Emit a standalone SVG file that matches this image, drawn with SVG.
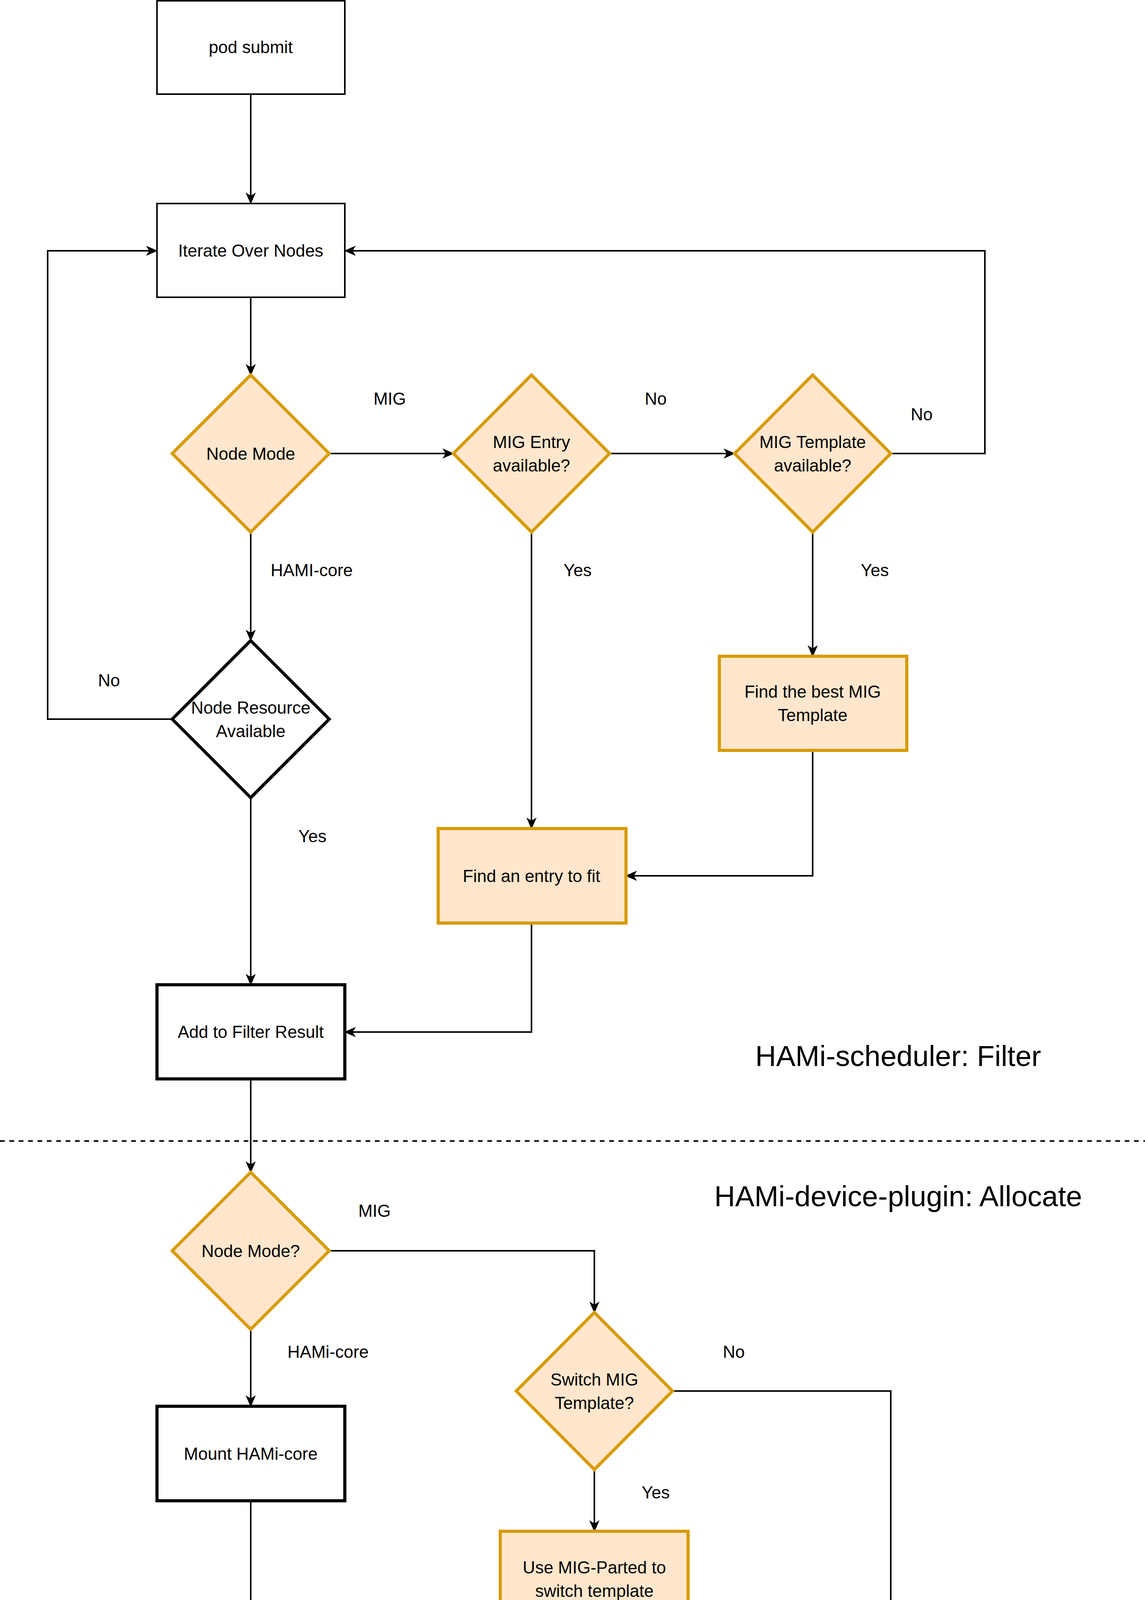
<svg xmlns="http://www.w3.org/2000/svg" width="2932" height="5444" viewBox="0 0 2932 5444">
<defs>
<marker id="ar" viewBox="0 0 30 26" refX="28" refY="13" markerWidth="30" markerHeight="26" markerUnits="userSpaceOnUse" orient="auto"><path d="M0,0 L30,13 L0,26 L8,13 Z" fill="#000"/></marker>
<style>
text{font-family:"Liberation Sans",Arial,sans-serif;font-size:44px;fill:#000;text-anchor:middle;dominant-baseline:central}
.t{fill:#fff;stroke:#000;stroke-width:4}
.k{fill:#fff;stroke:#000;stroke-width:8}
.o{fill:#ffe6cc;stroke:#d79b00;stroke-width:8}
.c{fill:none;stroke:#000;stroke-width:4;marker-end:url(#ar)}
.big{font-size:74px}
</style>
</defs>
<rect width="2932" height="5444" fill="#fff"/>
<g id="connectors">
<path class="c" d="M642,241 V521"/>
<path class="c" d="M642,761 V960"/>
<path class="c" d="M843,1161 H1161"/>
<path class="c" d="M1561,1161 H1881"/>
<path class="c" d="M2281,1161 H2522 V642 H883"/>
<path class="c" d="M642,1362 V1640"/>
<path class="c" d="M441,1841 H122 V642 H402"/>
<path class="c" d="M1361,1362 V2121"/>
<path class="c" d="M2081,1362 V1680"/>
<path class="c" d="M2081,1921 V2242 H1603"/>
<path class="c" d="M642,2042 V2521"/>
<path class="c" d="M1361,2363 V2642 H883"/>
<path class="c" d="M642,2762 V3001"/>
<path class="c" d="M843,3202 H1522 V3360"/>
<path class="c" d="M642,3403 V3600"/>
<path class="c" d="M1522,3762 V3920"/>
<path class="c" d="M1722,3561 H2281 V4442 H1762"/>
<path class="c" d="M642,3842 V4161"/>
<path class="c" d="M1522,4163 V4321"/>
<path class="c" d="M642,4402 V4720"/>
<path class="c" d="M1522,4562 V4720"/>
<path fill="none" stroke="#000" stroke-width="4" d="M642,4964 V5082 H1522 V4964"/>
<path class="c" d="M1083,5082 V5202"/>
<line x1="0" y1="2921" x2="2932" y2="2921" stroke="#000" stroke-width="4" stroke-dasharray="12,12"/>
</g>
<g id="labels">
<text x="998" y="1020">MIG</text>
<text x="1679" y="1020">No</text>
<text x="2360" y="1060">No</text>
<text x="798" y="1459">HAMI-core</text>
<text x="1479" y="1459">Yes</text>
<text x="2240" y="1459">Yes</text>
<text x="279" y="1741">No</text>
<text x="800" y="2140">Yes</text>
<text x="959" y="3099">MIG</text>
<text x="840" y="3460">HAMi-core</text>
<text x="1879" y="3460">No</text>
<text x="1679" y="3820">Yes</text>
<text class="big" x="2300" y="2703">HAMi-scheduler: Filter</text>
<text class="big" x="2300" y="3062">HAMi-device-plugin: Allocate</text>
</g>
<g id="pod-submit"><rect class="t" x="402" y="2" width="481" height="239"/><text x="642" y="120">pod submit</text></g>
<g id="iterate"><rect class="t" x="402" y="521" width="481" height="240"/><text x="642" y="641">Iterate Over Nodes</text></g>
<g id="node-mode"><path class="o" d="M642,960 L843,1161 L642,1362 L441,1161 Z"/><text x="642" y="1161">Node Mode</text></g>
<g id="mig-entry"><path class="o" d="M1361,960 L1561,1161 L1361,1362 L1161,1161 Z"/><text x="1361" y="1131">MIG Entry</text><text x="1361" y="1191">available?</text></g>
<g id="mig-template"><path class="o" d="M2081,960 L2281,1161 L2081,1362 L1881,1161 Z"/><text x="2081" y="1131">MIG Template</text><text x="2081" y="1191">available?</text></g>
<g id="node-resource"><path class="k" d="M642,1640 L843,1841 L642,2042 L441,1841 Z"/><text x="642" y="1811">Node Resource</text><text x="642" y="1871">Available</text></g>
<g id="best-template"><rect class="o" x="1842" y="1680" width="480" height="241"/><text x="2081" y="1770">Find the best MIG</text><text x="2081" y="1830">Template</text></g>
<g id="entry-fit"><rect class="o" x="1122" y="2121" width="481" height="242"/><text x="1361" y="2242">Find an entry to fit</text></g>
<g id="filter-result"><rect class="k" x="402" y="2521" width="481" height="241"/><text x="642" y="2641">Add to Filter Result</text></g>
<g id="node-mode-2"><path class="o" d="M642,3001 L843,3202 L642,3403 L441,3202 Z"/><text x="642" y="3202">Node Mode?</text></g>
<g id="switch"><path class="o" d="M1522,3360 L1722,3561 L1522,3762 L1322,3561 Z"/><text x="1522" y="3531">Switch MIG</text><text x="1522" y="3591">Template?</text></g>
<g id="mount-core"><rect class="k" x="402" y="3600" width="481" height="242"/><text x="642" y="3721">Mount HAMi-core</text></g>
<g id="mig-parted"><rect class="o" x="1281" y="3920" width="481" height="243"/><text x="1522" y="4012">Use MIG-Parted to</text><text x="1522" y="4072">switch template</text></g>
<g id="set-envs"><rect class="k" x="402" y="4161" width="481" height="241"/><text x="642" y="4252">Set corresponding</text><text x="642" y="4312">Envs</text></g>
<g id="find-available"><rect class="o" x="1281" y="4321" width="481" height="241"/><text x="1522" y="4442">Find an available</text></g>
<g id="mount-gpu"><rect class="k" x="402" y="4720" width="481" height="244"/><text x="642" y="4842">Mount GPU UUID</text></g>
<g id="mount-mig"><rect class="o" x="1281" y="4720" width="481" height="244"/><text x="1522" y="4842">Mount MIG UUID</text></g>
<g id="start"><rect class="t" x="402" y="5202" width="1360" height="239"/><text x="1083" y="5322">Start Container</text></g>
</svg>
